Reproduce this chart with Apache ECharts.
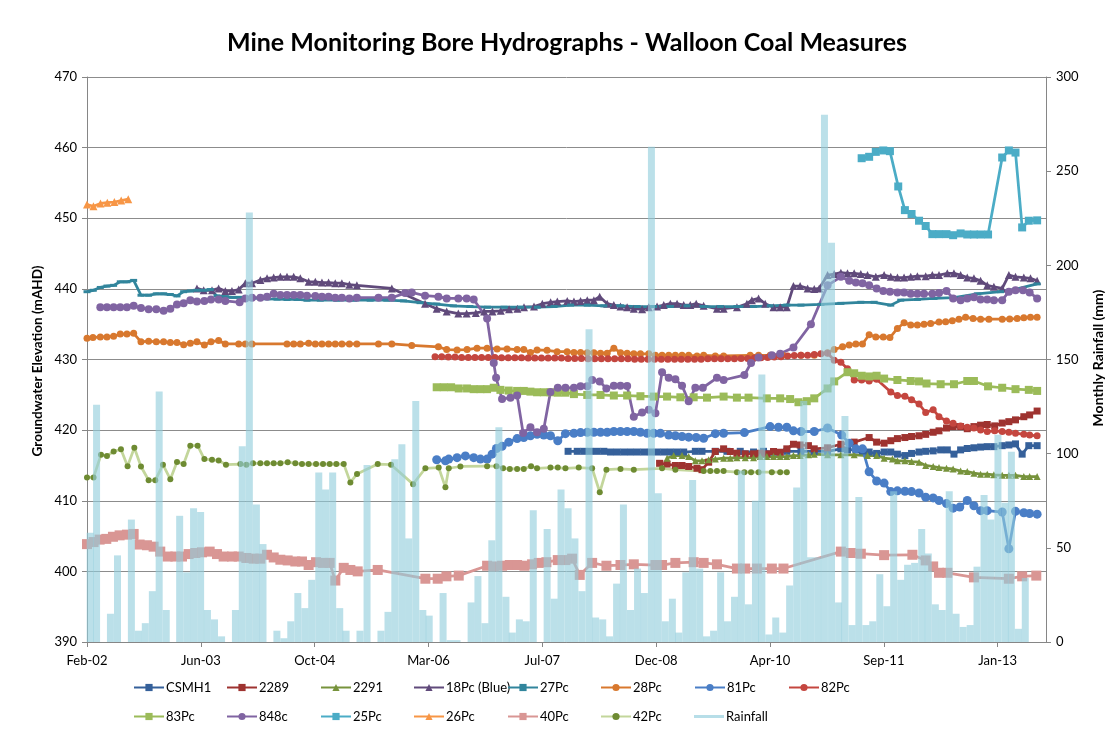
<!DOCTYPE html>
<html><head><meta charset="utf-8">
<script src="https://cdn.jsdelivr.net/npm/echarts@6/dist/echarts.min.js"></script>
<style>html,body{margin:0;padding:0;background:#fff}#c{width:1114px;height:740px}</style>
</head><body><div id="c"></div>
<script>
// ---- data (x = decimal year, y = groundwater elevation mAHD) ----
const xTickInterval = 500; // days, axis starts 1 Feb 2002
const rainfallStart = [2002, 2]; // monthly totals from Feb 2002
const rainfall = [58,126,0,15,46,0,65,6,10,27,133,17,0,67,37,71,69,17,12,3,
  0,17,104,228,73,52,0,6,2,11,26,18,33,90,81,90,18,6,0,6,
  94,0,6,16,97,105,55,128,17,14,0,26,1,1,0,21,35,10,54,114,
  24,5,12,11,70,0,60,23,81,71,55,27,166,13,12,3,31,73,17,39,
  26,263,79,11,23,5,37,86,39,3,6,37,11,24,91,20,75,142,4,13,
  5,30,82,128,45,45,280,212,21,120,9,77,9,11,36,19,80,33,41,42,
  60,47,20,17,80,15,8,9,40,78,65,110,74,101,7,34];

const sCSMH1 = [[2007.87,417.0],[2007.98,417.0],[2008.06,417.0],[2008.14,417.0],[2008.22,417.0],[2008.30,417.0],[2008.38,416.9],[2008.46,416.9],[2008.54,416.9],[2008.62,416.9],[2008.70,416.9],[2008.78,416.9],[2008.86,416.9],[2008.94,416.9],[2009.02,416.9],[2009.10,416.9],[2009.18,416.9],[2009.26,416.9],[2009.40,417.0],[2009.48,417.0],[2009.64,417.0],[2009.78,417.0],[2009.94,417.0],[2010.10,416.9],[2010.22,417.0],[2010.34,416.9],[2010.50,417.0],[2010.67,417.0],[2010.83,417.0],[2010.99,417.0],[2011.15,417.35],[2011.23,417.2],[2011.33,417.2],[2011.41,417.06],[2011.49,416.9],[2011.58,416.7],[2011.67,416.9],[2011.75,416.9],[2011.83,416.6],[2011.92,416.4],[2012.00,416.7],[2012.09,416.9],[2012.17,417.0],[2012.26,417.06],[2012.35,417.2],[2012.43,417.2],[2012.51,416.6],[2012.59,417.2],[2012.67,417.4],[2012.75,417.5],[2012.83,417.6],[2012.91,417.66],[2012.99,417.66],[2013.09,417.8],[2013.17,417.9],[2013.25,418.05],[2013.33,416.6],[2013.41,417.8],[2013.51,417.8]];
const s2289 = [[2008.97,415.3],[2009.06,415.2],[2009.16,414.99],[2009.24,414.99],[2009.32,414.85],[2009.42,414.6],[2009.48,414.4],[2009.56,415.46],[2009.64,416.97],[2009.74,417.35],[2009.82,416.97],[2009.90,416.73],[2010.00,416.64],[2010.10,416.64],[2010.18,416.73],[2010.26,416.64],[2010.34,416.97],[2010.42,416.87],[2010.50,417.35],[2010.58,418.0],[2010.66,417.9],[2010.76,417.8],[2010.83,417.35],[2010.99,417.5],[2011.15,418.0],[2011.31,418.3],[2011.49,418.95],[2011.58,418.3],[2011.67,418.15],[2011.75,418.5],[2011.83,418.8],[2011.92,418.95],[2012.00,419.1],[2012.09,419.2],[2012.17,419.4],[2012.26,419.7],[2012.33,419.9],[2012.42,420.3],[2012.50,420.5],[2012.59,420.5],[2012.67,420.2],[2012.75,420.5],[2012.83,420.7],[2012.91,420.8],[2013.00,420.6],[2013.09,421.0],[2013.17,421.2],[2013.25,421.45],[2013.35,421.9],[2013.42,422.15],[2013.51,422.7]];
const s2291 = [[2009.06,416.03],[2009.14,416.4],[2009.24,416.4],[2009.32,416.26],[2009.40,415.65],[2009.48,415.65],[2009.56,415.8],[2009.64,415.9],[2009.74,416.03],[2009.82,416.03],[2009.90,416.1],[2010.00,416.1],[2010.10,416.1],[2010.18,416.26],[2010.26,416.26],[2010.34,416.26],[2010.42,416.26],[2010.50,416.26],[2010.58,416.4],[2010.66,416.4],[2010.76,416.5],[2010.83,416.6],[2010.99,416.5],[2011.15,416.5],[2011.31,416.5],[2011.47,416.4],[2011.58,416.4],[2011.67,416.03],[2011.77,415.9],[2011.83,415.65],[2011.92,415.65],[2012.00,415.55],[2012.09,415.46],[2012.17,415.0],[2012.26,414.85],[2012.33,414.7],[2012.42,414.6],[2012.50,414.5],[2012.59,414.2],[2012.67,414.14],[2012.75,413.9],[2012.83,413.76],[2012.91,413.76],[2012.99,413.67],[2013.09,413.6],[2013.17,413.6],[2013.25,413.6],[2013.35,413.43],[2013.42,413.43],[2013.51,413.43]];
const s18Pc = [[2003.407,440.07],[2003.488,439.8],[2003.588,439.8],[2003.668,440.07],[2003.748,439.7],[2003.828,439.7],[2003.909,439.9],[2003.989,440.8],[2004.069,440.8],[2004.17,441.25],[2004.25,441.5],[2004.33,441.6],[2004.41,441.7],[2004.49,441.7],[2004.57,441.7],[2004.65,441.5],[2004.75,441.0],[2004.83,441.0],[2004.91,440.9],[2004.99,440.9],[2005.07,440.8],[2005.15,440.8],[2005.24,440.6],[2005.33,440.5],[2005.75,440.07],[2006.15,437.9],[2006.29,437.2],[2006.41,436.8],[2006.55,436.5],[2006.65,436.5],[2006.76,436.6],[2006.86,436.8],[2006.96,436.8],[2007.06,436.9],[2007.16,437.1],[2007.26,437.2],[2007.34,437.4],[2007.46,437.5],[2007.56,437.9],[2007.66,438.1],[2007.74,438.2],[2007.86,438.3],[2007.94,438.2],[2008.02,438.3],[2008.10,438.4],[2008.18,438.4],[2008.25,438.9],[2008.34,437.9],[2008.42,437.7],[2008.50,437.5],[2008.58,437.4],[2008.66,437.2],[2008.76,437.1],[2008.84,437.4],[2008.94,437.5],[2009.02,437.7],[2009.10,437.9],[2009.18,437.9],[2009.26,437.7],[2009.34,437.7],[2009.41,437.9],[2009.50,437.6],[2009.66,437.2],[2009.74,437.2],[2009.90,437.4],[2010.02,437.9],[2010.08,438.4],[2010.16,438.65],[2010.24,437.9],[2010.34,437.4],[2010.42,437.4],[2010.50,437.4],[2010.58,440.4],[2010.66,440.4],[2010.75,440.07],[2010.83,439.98],[2010.89,440.07],[2010.99,441.95],[2011.07,442.1],[2011.15,442.3],[2011.23,442.2],[2011.31,442.2],[2011.39,442.1],[2011.47,441.95],[2011.57,441.7],[2011.67,441.95],[2011.75,441.7],[2011.83,441.6],[2011.91,441.6],[2011.99,441.7],[2012.07,441.8],[2012.17,441.8],[2012.25,441.95],[2012.33,441.95],[2012.43,442.2],[2012.51,442.2],[2012.59,441.95],[2012.67,441.6],[2012.75,441.5],[2012.83,441.15],[2012.91,440.5],[2012.99,440.3],[2013.09,440.07],[2013.17,441.95],[2013.25,441.7],[2013.35,441.6],[2013.43,441.5],[2013.51,441.15]];
const s27Pc = [[2002.085,439.6],[2002.16,439.8],[2002.245,440.2],[2002.325,440.4],[2002.405,440.5],[2002.485,441.0],[2002.565,441.0],[2002.646,441.2],[2002.734,439.1],[2002.826,439.1],[2002.918,439.3],[2003.006,439.3],[2003.087,439.2],[2003.167,439.0],[2003.247,439.6],[2003.327,439.7],[2003.407,439.8],[2003.488,439.8],[2003.568,439.9],[2003.648,439.0],[2003.748,438.9],[2003.828,438.8],[2003.909,438.8],[2004.07,438.7],[2004.17,438.65],[2004.25,438.6],[2004.37,438.55],[2004.49,438.5],[2004.61,438.5],[2004.73,438.4],[2004.89,438.4],[2005.09,438.4],[2005.29,438.4],[2005.49,438.4],[2005.69,438.4],[2005.89,438.3],[2006.09,438.05],[2006.29,437.85],[2006.49,437.6],[2006.69,437.5],[2006.9,437.4],[2007.1,437.4],[2007.3,437.4],[2007.5,437.4],[2007.7,437.5],[2007.9,437.7],[2008.1,437.7],[2008.3,437.6],[2008.5,437.6],[2008.7,437.5],[2008.9,437.5],[2009.1,437.5],[2009.3,437.6],[2009.5,437.5],[2009.7,437.5],[2009.9,437.5],[2010.1,437.5],[2010.3,437.6],[2010.5,437.7],[2010.67,437.7],[2010.91,437.8],[2011.15,437.95],[2011.39,438.1],[2011.55,438.1],[2011.75,437.7],[2011.87,438.4],[2012.07,438.5],[2012.27,438.65],[2012.51,438.75],[2012.79,439.3],[2013.07,439.6],[2013.27,440.0],[2013.51,440.7]];
const s28Pc = [[2002.085,433.0],[2002.156,433.1],[2002.245,433.2],[2002.325,433.2],[2002.405,433.3],[2002.485,433.6],[2002.565,433.6],[2002.646,433.7],[2002.734,432.5],[2002.826,432.6],[2002.918,432.5],[2003.006,432.5],[2003.087,432.4],[2003.167,432.4],[2003.247,432.1],[2003.327,432.3],[2003.407,432.5],[2003.496,432.05],[2003.576,432.5],[2003.668,432.7],[2003.748,432.2],[2003.909,432.2],[2003.989,432.2],[2004.069,432.2],[2004.49,432.2],[2004.57,432.2],[2004.65,432.2],[2004.75,432.3],[2004.83,432.2],[2004.91,432.2],[2004.99,432.2],[2005.07,432.2],[2005.15,432.2],[2005.24,432.2],[2005.33,432.2],[2005.59,432.2],[2005.75,432.2],[2005.99,432.0],[2006.31,431.8],[2006.41,431.4],[2006.535,431.35],[2006.655,431.4],[2006.775,431.6],[2006.896,431.6],[2007.016,431.5],[2007.136,431.5],[2007.257,431.4],[2007.337,431.4],[2007.417,431.0],[2007.497,431.35],[2007.617,431.3],[2007.738,431.1],[2007.858,431.1],[2007.94,431.0],[2008.02,431.0],[2008.10,430.97],[2008.18,430.97],[2008.26,430.9],[2008.34,430.9],[2008.42,431.6],[2008.50,430.97],[2008.58,430.9],[2008.66,430.8],[2008.74,430.8],[2008.84,430.8],[2008.92,430.6],[2009.00,430.6],[2009.08,430.6],[2009.16,430.6],[2009.24,430.6],[2009.32,430.6],[2009.42,430.5],[2009.50,430.6],[2009.64,430.5],[2009.74,430.5],[2010.06,430.6],[2010.16,430.6],[2010.30,430.6],[2010.45,430.6],[2010.67,430.6],[2010.83,430.6],[2010.99,430.97],[2011.07,431.4],[2011.17,431.8],[2011.25,432.05],[2011.33,432.2],[2011.41,432.2],[2011.49,433.5],[2011.57,433.2],[2011.66,433.2],[2011.74,433.1],[2011.83,434.4],[2011.91,435.2],[2011.99,434.9],[2012.07,434.9],[2012.15,435.0],[2012.23,435.1],[2012.33,435.3],[2012.41,435.35],[2012.49,435.5],[2012.57,435.7],[2012.65,436.0],[2012.74,435.8],[2012.83,435.7],[2012.93,435.7],[2013.09,435.7],[2013.18,435.75],[2013.27,435.8],[2013.35,435.9],[2013.43,436.0],[2013.51,436.0]];
const s81Pc = [[2006.29,415.8],[2006.395,415.65],[2006.435,415.9],[2006.535,416.1],[2006.635,416.35],[2006.735,416.1],[2006.816,415.9],[2006.896,415.9],[2006.956,416.6],[2007.008,417.4],[2007.076,417.7],[2007.156,418.3],[2007.257,418.8],[2007.337,418.95],[2007.417,419.2],[2007.497,419.4],[2007.578,419.3],[2007.658,419.2],[2007.746,418.5],[2007.838,419.5],[2007.94,419.55],[2008.02,419.65],[2008.10,419.7],[2008.18,419.7],[2008.26,419.7],[2008.34,419.7],[2008.42,419.8],[2008.50,419.8],[2008.58,419.8],[2008.66,419.8],[2008.74,419.7],[2008.82,419.55],[2008.90,419.55],[2008.98,419.55],[2009.08,419.3],[2009.16,419.2],[2009.24,419.1],[2009.32,419.0],[2009.41,418.95],[2009.50,418.85],[2009.64,419.5],[2009.74,419.55],[2009.99,419.65],[2010.30,420.5],[2010.40,420.4],[2010.50,420.4],[2010.58,419.9],[2010.67,419.8],[2010.83,419.8],[2010.99,420.3],[2011.16,419.3],[2011.25,418.15],[2011.33,417.35],[2011.41,417.35],[2011.49,414.1],[2011.58,412.8],[2011.67,412.5],[2011.75,411.3],[2011.83,411.4],[2011.92,411.35],[2012.00,411.3],[2012.09,411.1],[2012.17,410.5],[2012.26,410.4],[2012.33,410.04],[2012.42,409.6],[2012.50,408.95],[2012.58,409.1],[2012.67,410.04],[2012.75,409.3],[2012.83,408.6],[2012.91,408.6],[2013.09,408.4],[2013.17,403.2],[2013.25,408.5],[2013.35,408.3],[2013.42,408.2],[2013.51,408.1]];
const s82Pc = [[2006.27,430.4],[2006.35,430.4],[2006.43,430.35],[2006.51,430.35],[2006.59,430.3],[2006.67,430.3],[2006.75,430.3],[2006.83,430.3],[2006.91,430.3],[2006.99,430.3],[2007.07,430.25],[2007.15,430.25],[2007.23,430.25],[2007.31,430.25],[2007.39,430.2],[2007.47,430.2],[2007.55,430.2],[2007.63,430.2],[2007.71,430.2],[2007.79,430.2],[2007.87,430.15],[2007.95,430.15],[2008.03,430.15],[2008.11,430.1],[2008.19,430.1],[2008.27,430.1],[2008.35,430.1],[2008.43,430.1],[2008.51,430.1],[2008.59,430.1],[2008.67,430.05],[2008.75,430.05],[2008.83,430.05],[2008.91,430.05],[2008.99,430.05],[2009.07,430.05],[2009.15,430.05],[2009.23,430.05],[2009.31,430.05],[2009.39,430.05],[2009.47,430.05],[2009.55,430.1],[2009.63,430.1],[2009.71,430.1],[2009.79,430.1],[2009.87,430.1],[2009.95,430.15],[2010.03,430.15],[2010.11,430.2],[2010.19,430.25],[2010.27,430.3],[2010.35,430.35],[2010.43,430.4],[2010.51,430.5],[2010.59,430.55],[2010.67,430.6],[2010.75,430.6],[2010.83,430.7],[2010.91,430.8],[2010.99,430.9],[2011.07,429.9],[2011.15,429.6],[2011.23,428.7],[2011.31,427.1],[2011.40,427.1],[2011.49,426.96],[2011.58,427.2],[2011.75,425.4],[2011.83,424.9],[2011.92,424.8],[2012.00,424.3],[2012.09,423.7],[2012.17,422.5],[2012.26,422.9],[2012.33,421.9],[2012.42,421.3],[2012.50,420.98],[2012.59,420.6],[2012.67,420.4],[2012.75,420.3],[2012.83,420.03],[2012.91,419.8],[2013.00,419.9],[2013.09,419.8],[2013.17,419.7],[2013.25,419.56],[2013.35,419.4],[2013.42,419.3],[2013.51,419.2]];
const s83Pc = [[2006.29,426.07],[2006.375,426.07],[2006.463,426.07],[2006.555,425.9],[2006.655,425.9],[2006.735,425.8],[2006.816,425.8],[2006.896,425.8],[2006.976,426.0],[2007.056,425.7],[2007.156,425.6],[2007.257,425.55],[2007.337,425.55],[2007.417,425.45],[2007.497,425.36],[2007.578,425.36],[2007.658,425.36],[2007.746,425.3],[2007.838,425.3],[2007.94,425.1],[2008.10,424.98],[2008.26,424.98],[2008.42,424.9],[2008.58,424.9],[2008.74,424.8],[2008.90,424.75],[2009.06,424.75],[2009.22,424.65],[2009.38,424.65],[2009.54,424.6],[2009.74,424.75],[2009.90,424.6],[2010.04,424.6],[2010.26,424.5],[2010.42,424.5],[2010.54,424.4],[2010.64,423.95],[2010.74,424.1],[2010.83,424.5],[2010.99,425.9],[2011.07,426.9],[2011.23,428.2],[2011.31,428.05],[2011.40,427.7],[2011.49,427.6],[2011.58,427.7],[2011.67,427.3],[2011.83,427.1],[2011.99,426.96],[2012.09,426.9],[2012.18,426.6],[2012.35,426.5],[2012.51,426.5],[2012.67,426.96],[2012.75,426.96],[2012.92,426.2],[2013.09,426.0],[2013.25,425.8],[2013.41,425.7],[2013.51,425.55]];
const s848c = [[2002.245,437.4],[2002.325,437.4],[2002.405,437.4],[2002.485,437.4],[2002.565,437.4],[2002.646,437.6],[2002.734,437.3],[2002.826,437.1],[2002.918,437.1],[2003.006,436.9],[2003.087,437.2],[2003.167,437.8],[2003.247,437.95],[2003.327,438.4],[2003.407,438.2],[2003.496,438.3],[2003.576,438.5],[2003.668,438.5],[2003.748,438.3],[2003.92,438.1],[2003.989,438.65],[2004.069,438.75],[2004.17,438.75],[2004.25,438.9],[2004.33,439.3],[2004.41,439.15],[2004.49,439.15],[2004.57,439.15],[2004.65,439.15],[2004.73,439.03],[2004.83,439.0],[2004.91,438.9],[2004.99,438.9],[2005.07,438.75],[2005.15,438.75],[2005.24,438.65],[2005.33,438.75],[2005.59,438.75],[2005.75,438.75],[2005.91,439.4],[2005.99,439.5],[2006.15,439.03],[2006.31,438.9],[2006.41,438.65],[2006.55,438.65],[2006.65,438.65],[2006.735,438.5],[2006.896,435.8],[2006.976,429.5],[2007.004,427.4],[2007.076,424.4],[2007.177,424.6],[2007.257,424.9],[2007.329,419.6],[2007.417,420.4],[2007.497,419.7],[2007.578,420.2],[2007.658,425.4],[2007.746,426.0],[2007.838,426.0],[2007.94,426.0],[2008.02,426.2],[2008.10,426.2],[2008.16,427.1],[2008.25,426.9],[2008.33,425.9],[2008.42,426.3],[2008.50,426.3],[2008.58,426.25],[2008.66,421.9],[2008.76,422.5],[2008.84,422.9],[2008.92,422.4],[2009.00,428.2],[2009.08,427.4],[2009.16,427.2],[2009.24,426.3],[2009.32,424.1],[2009.40,426.0],[2009.49,426.0],[2009.66,427.4],[2009.74,427.1],[2009.99,427.8],[2010.07,429.5],[2010.16,430.3],[2010.32,430.6],[2010.42,430.8],[2010.58,431.7],[2010.79,435.0],[2010.99,440.5],[2011.15,441.7],[2011.25,441.15],[2011.33,440.9],[2011.41,440.8],[2011.49,440.5],[2011.58,440.07],[2011.66,439.7],[2011.74,439.6],[2011.83,439.5],[2011.91,439.5],[2011.99,439.3],[2012.07,439.3],[2012.15,439.3],[2012.25,439.3],[2012.33,439.4],[2012.42,439.7],[2012.50,438.65],[2012.59,438.4],[2012.67,438.65],[2012.75,438.8],[2012.83,438.5],[2012.91,438.5],[2012.99,438.4],[2013.09,438.4],[2013.17,439.6],[2013.25,439.8],[2013.34,439.8],[2013.42,439.5],[2013.51,438.65]];
const s25Pc = [[2011.40,458.5],[2011.49,458.7],[2011.57,459.4],[2011.66,459.6],[2011.74,459.5],[2011.84,454.5],[2011.92,451.15],[2012.00,450.6],[2012.09,449.65],[2012.17,448.9],[2012.25,447.75],[2012.33,447.75],[2012.42,447.75],[2012.50,447.6],[2012.59,447.85],[2012.67,447.7],[2012.75,447.7],[2012.83,447.7],[2012.92,447.7],[2013.09,458.6],[2013.17,459.6],[2013.25,459.3],[2013.33,448.7],[2013.41,449.65],[2013.51,449.7]];
const s26Pc = [[2002.085,451.95],[2002.162,451.7],[2002.247,452.1],[2002.329,452.2],[2002.414,452.3],[2002.496,452.5],[2002.581,452.7]];
const s40Pc = [[2002.085,403.86],[2002.164,404.15],[2002.237,404.5],[2002.317,404.6],[2002.397,404.9],[2002.477,405.1],[2002.565,405.2],[2002.646,405.3],[2002.718,403.8],[2002.806,403.7],[2002.886,403.5],[2002.966,402.8],[2003.055,402.1],[2003.147,402.1],[2003.227,402.1],[2003.307,402.45],[2003.387,402.6],[2003.468,402.7],[2003.56,402.8],[2003.648,402.45],[2003.728,402.1],[2003.828,402.1],[2003.909,402.1],[2004.001,401.9],[2004.089,401.8],[2004.169,401.8],[2004.249,402.35],[2004.33,401.97],[2004.41,401.65],[2004.498,401.55],[2004.59,401.4],[2004.67,401.4],[2004.75,400.9],[2004.839,401.3],[2004.923,401.2],[2005.003,401.2],[2005.071,398.7],[2005.172,400.5],[2005.252,400.2],[2005.34,400.0],[2005.581,400.2],[2006.154,398.96],[2006.302,398.96],[2006.407,399.3],[2006.555,399.4],[2006.896,400.8],[2006.976,400.7],[2007.076,400.8],[2007.169,400.9],[2007.257,400.9],[2007.345,400.8],[2007.437,401.0],[2007.517,401.2],[2007.609,401.3],[2007.746,401.6],[2007.838,401.6],[2007.918,401.8],[2008.01,399.5],[2008.159,401.2],[2008.331,400.8],[2008.50,400.9],[2008.66,401.0],[2008.92,400.9],[2009.00,400.9],[2009.16,401.2],[2009.38,401.3],[2009.50,401.2],[2009.66,401.0],[2009.90,400.4],[2010.00,400.4],[2010.14,400.4],[2010.32,400.4],[2010.46,400.4],[2011.15,402.8],[2011.27,402.6],[2011.39,402.5],[2011.67,402.3],[2012.01,402.35],[2012.17,401.55],[2012.26,400.7],[2012.33,399.8],[2012.43,399.8],[2012.75,399.15],[2013.17,398.96],[2013.33,399.3],[2013.50,399.4]];
const s42Pc = [[2002.085,413.3],[2002.164,413.3],[2002.253,416.5],[2002.325,416.35],[2002.405,416.97],[2002.493,417.3],[2002.573,414.9],[2002.654,417.5],[2002.734,414.85],[2002.826,412.9],[2002.906,412.9],[2002.998,415.1],[2003.087,413.05],[2003.167,415.5],[2003.247,415.2],[2003.327,417.8],[2003.415,417.8],[2003.496,415.9],[2003.588,415.8],[2003.668,415.7],[2003.756,415.1],[2003.929,415.2],[2004.001,415.1],[2004.081,415.3],[2004.169,415.3],[2004.249,415.3],[2004.33,415.3],[2004.41,415.3],[2004.498,415.46],[2004.59,415.3],[2004.67,415.2],[2004.75,415.2],[2004.839,415.2],[2004.923,415.2],[2005.003,415.2],[2005.083,415.2],[2005.172,415.2],[2005.252,412.6],[2005.332,413.8],[2005.581,415.2],[2005.741,415.1],[2006.006,412.35],[2006.154,414.6],[2006.314,414.7],[2006.395,411.9],[2006.435,414.6],[2006.575,414.85],[2006.896,414.9],[2007.008,414.9],[2007.088,414.6],[2007.169,414.5],[2007.257,414.5],[2007.337,414.5],[2007.425,414.9],[2007.497,414.6],[2007.658,414.7],[2007.746,414.7],[2007.838,414.6],[2007.998,414.7],[2008.159,414.6],[2008.251,411.2],[2008.331,414.4],[2008.50,414.5],[2008.66,414.4],[2009.00,414.6],[2009.16,414.4],[2009.50,414.2],[2009.58,414.2],[2009.66,414.2],[2009.74,414.2],[2009.90,414.05],[2009.99,414.05],[2010.07,414.05],[2010.16,414.05],[2010.32,414.05],[2010.42,414.05],[2010.50,414.05]];

// ---- helpers ----
const FONT = 'Lato, "Open Sans", "DejaVu Sans", sans-serif';
const DAY0 = Date.UTC(2002, 1, 1);
const MS = 86400000;
const MON = ['Jan','Feb','Mar','Apr','May','Jun','Jul','Aug','Sep','Oct','Nov','Dec'];
const toDay = yr => (yr - 2002.0849) * 365.25;
const conv = arr => arr.map(p => [toDay(p[0]), p[1]]);
const rainData = rainfall.map((v, k) => [(Date.UTC(rainfallStart[0], rainfallStart[1] - 1 + k, 15) - DAY0) / MS, v]);

const styles = [
  ['CSMH1', sCSMH1, '#35609A', 'rect', 7],
  ['2289', s2289, '#9E3330', 'rect', 7],
  ['2291', s2291, '#77933C', 'triangle', 7],
  ['18Pc (Blue)', s18Pc, '#604A7B', 'triangle', 8],
  ['27Pc', s27Pc, '#31859C', 'rect', [7, 3]],
  ['28Pc', s28Pc, '#D8782E', 'circle', 7],
  ['81Pc', s81Pc, '#4A7EC6', 'circle', 9],
  ['82Pc', s82Pc, '#C4463F', 'circle', 7],
  ['83Pc', s83Pc, '#9BBB59', 'rect', 8],
  ['848c', s848c, '#8064A2', 'circle', 8],
  ['25Pc', s25Pc, '#4BACC6', 'rect', 8],
  ['26Pc', s26Pc, '#F79646', 'triangle', 8],
  ['40Pc', s40Pc, '#D99694', 'rect', 10],
  ['42Pc', s42Pc, '#C3D69B', 'circle', 6]
];

const series = styles.map(([name, data, color, symbol, size]) => ({
  name, type: 'line', data: conv(data), yAxisIndex: 0,
  symbol, symbolSize: size, showSymbol: true,
  lineStyle: { color, width: 2.75 },
  itemStyle: { color: name === '42Pc' ? '#6E8B32' : color, borderWidth: 0 },
  z: 3, animation: false
}));
series.push({
  name: 'Rainfall', type: 'bar', yAxisIndex: 1, data: rainData,
  barWidth: 7, itemStyle: { color: 'rgba(146,205,220,0.62)' }, z: 4, animation: false
});

const cols = [133, 226, 320, 413, 507, 600, 694, 788];
const names = styles.map(s => s[0]).concat(['Rainfall']);
const legends = names.map((n, i) => ({
  data: n === 'Rainfall' ? [{ name: n, icon: 'rect', itemStyle: { color: '#B7DEE8' } }] : [n],
  left: cols[i % 8], top: i < 8 ? 681 : 710,
  itemWidth: 30, itemHeight: n === 'Rainfall' ? 3 : 9, itemGap: 2, padding: 0,
  selectedMode: false,
  textStyle: { fontFamily: FONT, fontSize: 13, color: '#000', padding: [0, 0, 0, -3] }
}));

const chart = echarts.init(document.getElementById('c'), null, { renderer: 'canvas' });
chart.setOption({
  backgroundColor: '#fff',
  animation: false,
  textStyle: { fontFamily: FONT },
  grid: { left: 87, top: 77, width: 959, height: 565, containLabel: false },
  legend: legends,
  graphic: [
    { type: 'text', x: 567, y: 43, style: { text: 'Mine Monitoring Bore Hydrographs - Walloon Coal Measures', font: 'bold 25px ' + FONT, fill: '#000', align: 'center', verticalAlign: 'middle' } },
    { type: 'text', x: 38, y: 361, rotation: Math.PI / 2, style: { text: 'Groundwater Elevation (mAHD)', font: 'bold 13.5px ' + FONT, fill: '#000', align: 'center', verticalAlign: 'middle' } },
    { type: 'text', x: 1098, y: 358, rotation: Math.PI / 2, style: { text: 'Monthly Rainfall (mm)', font: 'bold 14px ' + FONT, fill: '#000', align: 'center', verticalAlign: 'middle' } }
  ],
  xAxis: {
    type: 'value', min: 0, max: 4212, interval: xTickInterval,
    axisLine: { show: true, lineStyle: { color: '#868686' } },
    axisTick: { show: true, length: 5, lineStyle: { color: '#868686' } },
    splitLine: { show: false },
    axisLabel: {
      fontSize: 13, color: '#000', margin: 12, showMaxLabel: false,
      formatter: v => {
        if (v % xTickInterval !== 0) return '';
        const d = new Date(DAY0 + v * MS);
        return MON[d.getUTCMonth()] + '-' + String(d.getUTCFullYear() % 100).padStart(2, '0');
      }
    }
  },
  yAxis: [
    { type: 'value', min: 390, max: 470, interval: 10, position: 'left',
      axisLine: { show: true, lineStyle: { color: '#868686' } },
      axisTick: { show: true, length: 5, lineStyle: { color: '#868686' } },
      splitLine: { show: true, lineStyle: { color: '#8C8C8C', width: 1 } },
      axisLabel: { fontSize: 13, color: '#000', margin: 10 } },
    { type: 'value', min: 0, max: 300, interval: 50, position: 'right',
      axisLine: { show: true, lineStyle: { color: '#868686' } },
      axisTick: { show: true, length: 5, lineStyle: { color: '#868686' } },
      splitLine: { show: false },
      axisLabel: { fontSize: 13, color: '#000', margin: 10 } }
  ],
  series
});
</script>
</body></html>
